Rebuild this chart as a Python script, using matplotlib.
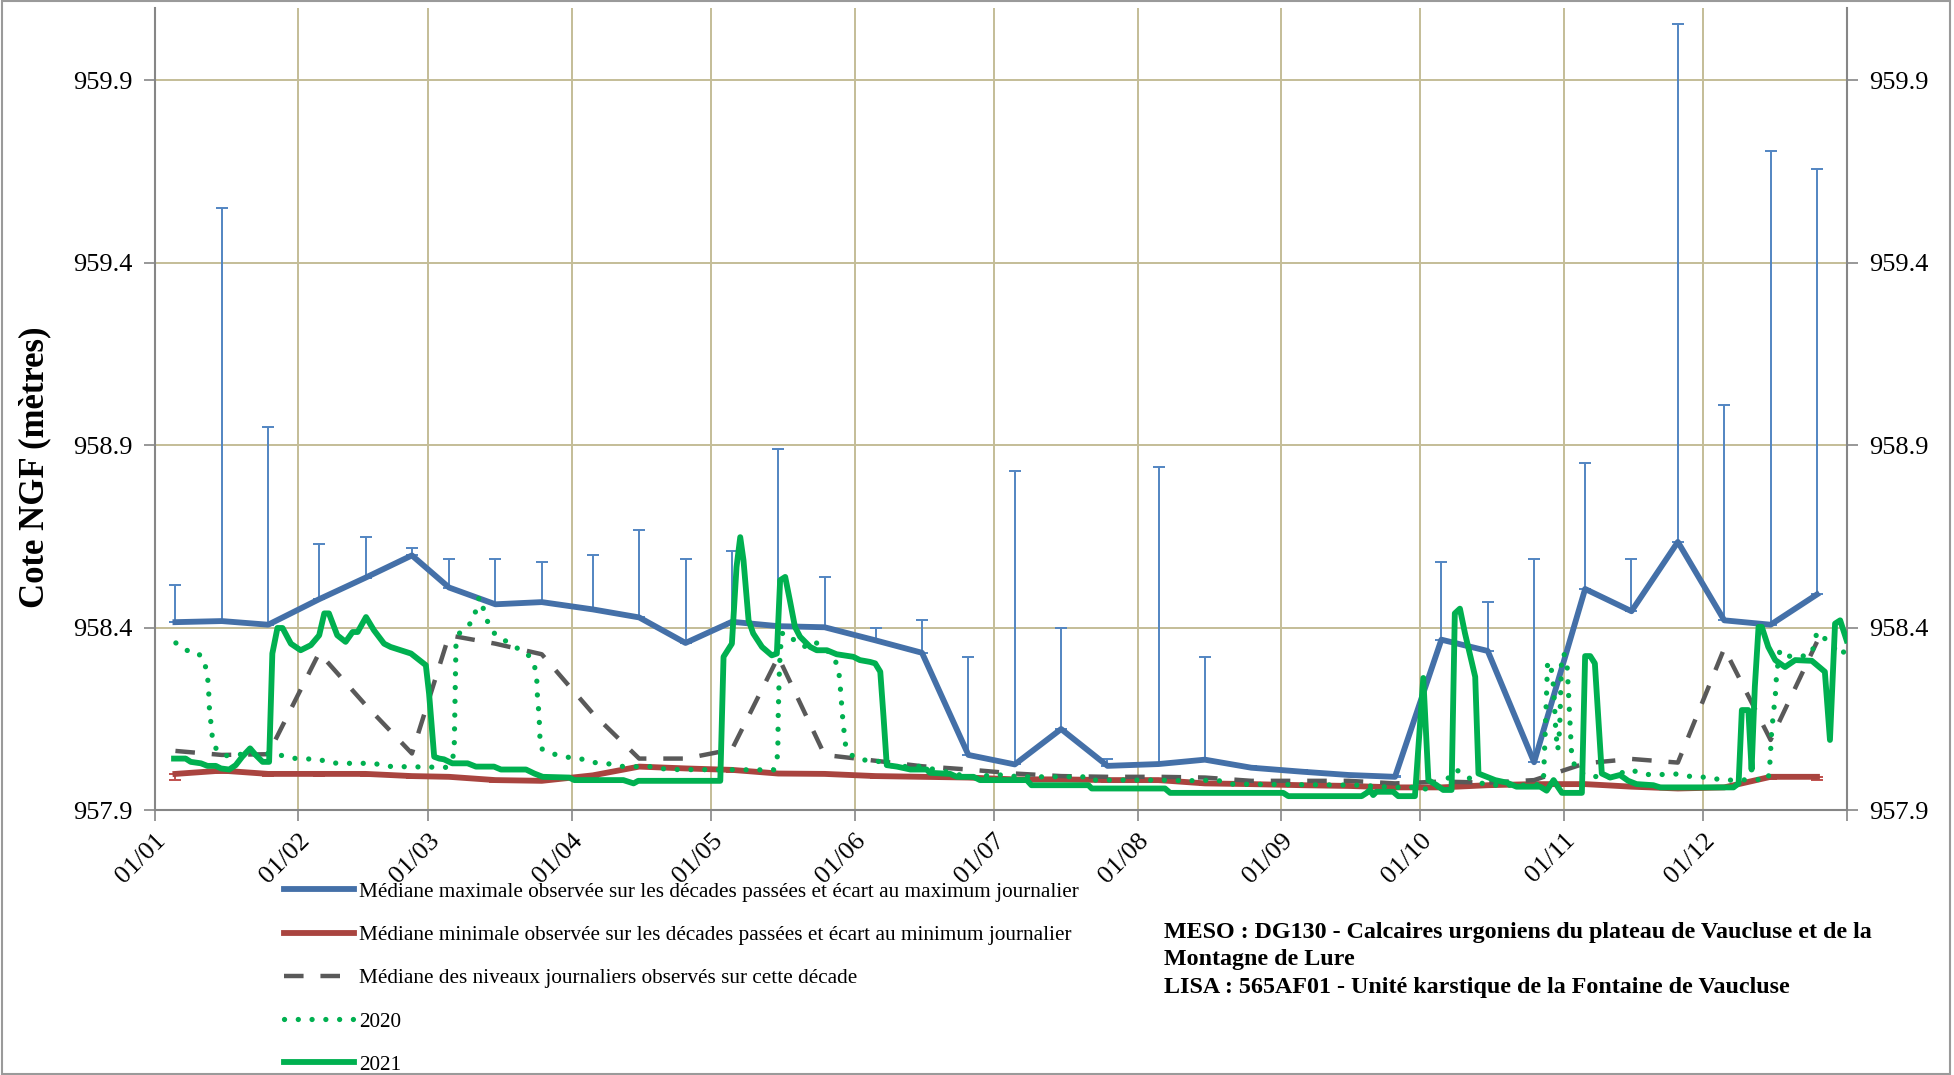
import matplotlib.pyplot as plt
import matplotlib.patches as patches
from matplotlib.lines import Line2D

plt.rcParams['font.family'] = ['Liberation Serif', 'DejaVu Serif']

# =============================================================================
# Datos (x = día del año, 0 = 01/01)
# =============================================================================
jours_decades = [4.5, 14.5, 24.5, 35.5, 45.5, 55.5, 63.5, 73.5, 83.5,
                 94.5, 104.5, 114.5, 124.5, 134.5, 144.5, 155.5, 165.5, 175.5,
                 185.5, 195.5, 205.5, 216.5, 226.5, 236.5, 247.5, 257.5, 267.5,
                 277.5, 287.5, 297.5, 308.5, 318.5, 328.5, 338.5, 348.5, 358.5]

mediane_max = [958.415, 958.418, 958.408, 958.478, 958.537, 958.598, 958.510, 958.464, 958.470,
               958.450, 958.428, 958.358, 958.416, 958.404, 958.401, 958.365, 958.331, 958.051,
               958.025, 958.122, 958.021, 958.026, 958.038, 958.016, 958.005, 957.996, 957.991,
               958.367, 958.336, 958.031, 958.506, 958.445, 958.635, 958.420, 958.408, 958.491]

maximum_journalier = [958.518, 959.551, 958.950, 958.628, 958.648, 958.618, 958.588, 958.588, 958.579,
                      958.600, 958.669, 958.589, 958.609, 958.891, 958.539, 958.399, 958.420, 958.320,
                      958.830, 958.400, 958.040, 958.840, 958.320, 958.020, 958.011, 958.000, 957.993,
                      958.579, 958.470, 958.588, 958.850, 958.588, 960.056, 959.011, 959.706, 959.656]

mediane_min = [957.999, 958.008, 957.999, 957.999, 957.999, 957.993, 957.991, 957.982, 957.980,
               957.995, 958.019, 958.014, 958.010, 958.000, 957.999, 957.993, 957.991, 957.989,
               957.984, 957.984, 957.982, 957.982, 957.973, 957.971, 957.968, 957.966, 957.962,
               957.962, 957.968, 957.971, 957.971, 957.964, 957.959, 957.962, 957.991, 957.991]

minimum_journalier = [957.982, 958.002, 957.993, 957.993, 957.993, 957.988, 957.987, 957.978, 957.976,
                      957.991, 958.014, 958.010, 958.005, 957.996, 957.995, 957.989, 957.987, 957.985,
                      957.980, 957.980, 957.978, 957.978, 957.969, 957.967, 957.964, 957.962, 957.958,
                      957.958, 957.964, 957.967, 957.967, 957.960, 957.955, 957.958, 957.986, 957.982]

mediane_decade = [958.062, 958.051, 958.053, 958.331, 958.188, 958.055, 958.379, 958.356, 958.327,
                  958.165, 958.041, 958.041, 958.066, 958.320, 958.051, 958.035, 958.020, 958.011,
                  958.000, 957.993, 957.991, 957.991, 957.989, 957.980, 957.980, 957.980, 957.973,
                  957.978, 957.975, 957.982, 958.028, 958.040, 958.030, 958.343, 958.092, 958.361]

jours_2020 = [4.6, 6.7, 9.1, 10.7, 11.2, 11.6, 11.8, 12.1, 12.3, 12.7, 13.6, 15.4, 20.7, 25.4,
              30.5, 35.5, 37.6, 39.8, 47.3, 49.9, 52.4, 62.8, 63.9, 64.6, 65.0, 65.7, 67.1,
              68.6, 69.3, 70.0, 70.7, 71.4, 72.5, 73.9, 76.1, 78.3, 80.4, 81.9, 82.4, 82.6,
              82.9, 83.1, 83.3, 85.5, 88.0, 90.5, 92.6, 95.0, 97.5, 100.0, 102.5, 107.6, 110.5,
              131.0, 133.5, 134.2, 134.4, 134.5, 134.7, 134.9, 135.3, 136.7, 138.5, 140.6,
              142.4, 145.0, 147.1, 147.7, 148.1, 148.3, 148.8, 149.1, 150.7, 152.9, 155.4,
              157.9, 160.4, 164.7, 166.9, 169.0, 171.6, 173.7, 176.2, 181.3, 183.8, 186.0,
              201.0, 202.0, 217.0, 222.0, 229.0, 232.5, 260.3, 264.0, 268.0, 272.9, 275.4,
              277.9, 280.7, 282.6, 285.1, 287.6, 297.7, 299.5, 300.0, 300.4, 301.0, 301.7,
              302.2, 302.6, 303.0, 303.4, 303.9, 304.6, 305.2, 305.6, 306.5, 309.2, 311.7,
              314.2, 316.0, 318.2, 320.7, 322.9, 327.9, 330.4, 332.9, 335.4, 338.0, 340.5,
              348.0, 348.4, 348.7, 349.1, 349.5, 349.8, 350.5, 352.3, 354.9, 357.4, 358.5,
              360.2, 362.0, 363.8, 364.9]
niveaux_2020 = [958.358, 958.338, 958.334, 958.311, 958.279, 958.247, 958.183, 958.146, 958.114,
                958.083, 958.060, 958.049, 958.055, 958.055, 958.041, 958.039, 958.030, 958.028,
                958.028, 958.020, 958.019, 958.017, 958.032, 958.055, 958.356, 958.384, 958.402,
                958.416, 958.448, 958.484, 958.461, 958.429, 958.397, 958.375, 958.361, 958.343,
                958.329, 958.297, 958.265, 958.201, 958.165, 958.101, 958.069, 958.055, 958.048,
                958.041, 958.039, 958.030, 958.028, 958.020, 958.019, 958.019, 958.011, 958.010,
                958.010, 958.032, 958.064, 958.165, 958.265, 958.329, 958.384, 958.384, 958.356,
                958.347, 958.361, 958.338, 958.302, 958.265, 958.201, 958.165, 958.101, 958.069,
                958.046, 958.037, 958.037, 958.023, 958.019, 958.020, 958.014, 958.010, 958.002,
                957.996, 957.991, 957.996, 957.996, 957.991, 957.991, 957.982, 957.982, 957.980,
                957.982, 957.971, 957.968, 957.964, 957.962, 957.962, 957.953, 957.973, 958.011,
                957.993, 957.978, 957.968, 957.968, 957.975, 958.150, 958.302, 958.306, 958.238,
                958.110, 958.064, 958.120, 958.300, 958.330, 958.300, 958.150, 958.050, 958.010,
                957.993, 957.991, 957.989, 958.000, 958.011, 958.000, 957.996, 957.999, 957.993,
                957.991, 957.989, 957.982, 957.982, 957.984, 958.037, 958.110, 958.165, 958.210,
                958.274, 958.338, 958.322, 958.320, 958.329, 958.388, 958.370, 958.347, 958.324,
                958.347]

jours_2021 = [4.2, 6.7, 7.8, 10.0, 11.4, 13.2, 14.3, 16.1, 17.5, 18.9, 20.6, 21.8, 23.3, 24.7,
              25.4, 26.5, 27.6, 29.4, 31.5, 33.7, 35.5, 36.6, 37.6, 39.4, 41.2, 42.7, 43.8,
              45.6, 47.3, 49.5, 50.9, 53.1, 55.3, 57.1, 58.5, 59.2, 60.3, 61.4, 62.4, 64.2,
              67.5, 69.3, 73.2, 74.7, 80.1, 81.9, 83.7, 89.4, 90.5, 101.1, 103.3, 104.3, 122.0,
              122.7, 124.5, 125.5, 126.3, 127.0, 128.1, 129.1, 131.0, 133.1, 134.2, 134.9,
              136.0, 137.0, 138.1, 139.2, 141.4, 142.8, 145.0, 147.1, 148.6, 150.7, 152.1,
              154.3, 155.4, 156.5, 157.2, 157.9, 160.1, 161.9, 163.0, 166.5, 167.2, 171.6,
              173.0, 176.6, 178.0, 188.1, 189.1, 201.4, 202.1, 217.9, 219.0, 243.4, 244.5,
              260.3, 261.4, 262.1, 262.8, 263.5, 267.1, 268.2, 271.8, 273.6, 274.7, 276.5,
              277.9, 279.7, 280.4, 281.5, 282.6, 284.8, 285.5, 287.3, 289.1, 291.6, 293.7,
              298.8, 300.2, 301.7, 302.7, 303.5, 307.8, 308.5, 309.6, 310.6, 312.1, 313.9,
              316.0, 317.8, 319.6, 323.2, 324.7, 340.5, 341.6, 342.3, 343.7, 344.4, 345.1,
              345.9, 346.6, 348.0, 349.5, 351.6, 353.8, 357.4, 360.2, 361.3, 362.4, 363.5, 364.9]
niveaux_2021 = [958.041, 958.041, 958.032, 958.028, 958.021, 958.021, 958.014, 958.011, 958.023,
                958.046, 958.069, 958.051, 958.032, 958.032, 958.329, 958.399, 958.399, 958.356,
                958.338, 958.352, 958.379, 958.439, 958.439, 958.379, 958.361, 958.388, 958.388,
                958.429, 958.393, 958.356, 958.347, 958.338, 958.329, 958.311, 958.297, 958.219,
                958.046, 958.041, 958.039, 958.028, 958.028, 958.019, 958.019, 958.011, 958.011,
                958.000, 957.991, 957.989, 957.982, 957.982, 957.973, 957.980, 957.980, 958.320,
                958.356, 958.566, 958.648, 958.585, 958.420, 958.384, 958.347, 958.324, 958.329,
                958.530, 958.539, 958.475, 958.402, 958.375, 958.347, 958.338, 958.338, 958.327,
                958.324, 958.320, 958.311, 958.306, 958.302, 958.279, 958.156, 958.023, 958.019,
                958.014, 958.011, 958.011, 958.002, 957.999, 957.991, 957.991, 957.982, 957.982,
                957.968, 957.968, 957.959, 957.959, 957.947, 957.947, 957.938, 957.938, 957.947,
                957.955, 957.941, 957.950, 957.950, 957.938, 957.938, 958.262, 957.982, 957.968,
                957.955, 957.955, 958.439, 958.452, 958.384, 958.265, 958.000, 957.991, 957.982,
                957.975, 957.964, 957.964, 957.953, 957.982, 957.962, 957.947, 957.947, 958.322,
                958.322, 958.302, 958.000, 957.989, 957.996, 957.980, 957.971, 957.968, 957.962,
                957.962, 957.973, 958.174, 958.174, 958.011, 958.238, 958.402, 958.402, 958.347,
                958.311, 958.292, 958.311, 958.309, 958.279, 958.092, 958.411, 958.420, 958.365]

jours_mois = [0, 31, 59, 90, 120, 151, 181, 212, 243, 273, 304, 334]
etiquettes_mois = ['01/01', '01/02', '01/03', '01/04', '01/05', '01/06',
                   '01/07', '01/08', '01/09', '01/10', '01/11', '01/12']
graduations_y = [957.9, 958.4, 958.9, 959.4, 959.9]

libelles = ['Médiane maximale observée sur les décades passées et écart au maximum journalier',
            'Médiane minimale observée sur les décades passées et écart au minimum journalier',
            'Médiane des niveaux journaliers observés sur cette décade',
            '2020',
            '2021']
texte_masse_eau = ('MESO : DG130 - Calcaires urgoniens du plateau de Vaucluse et de la\n'
                   'Montagne de Lure\n'
                   'LISA : 565AF01 - Unité karstique de la Fontaine de Vaucluse')

# =============================================================================
# Colores y estilos
# =============================================================================
azul = '#4470A8'
azulBarras = '#5285C2'
rojo = '#A9443F'
rojoBarras = '#C0504D'
gris = '#595959'
verde = '#00B050'
colorGrilla = '#C4BD97'
colorEjes = '#868686'

grosor = 4.2
punteado = (0.01, 2.6)
guiones = (4.4, 3.8)

fig = plt.figure(figsize=(19.54, 10.75), dpi=100)
ax = fig.add_axes([0.0791, 0.2465, 0.8662, 0.7465])

# barras de error (máximo y mínimo journalier)
ecartMax = [m - v for v, m in zip(mediane_max, maximum_journalier)]
ecartMin = [v - m for v, m in zip(mediane_min, minimum_journalier)]
ceros = [0] * len(jours_decades)
ax.errorbar(jours_decades, mediane_max, yerr=[ceros, ecartMax], fmt='none',
            ecolor=azulBarras, elinewidth=1.4, capsize=4.5, capthick=1.4, zorder=2)
ax.errorbar(jours_decades, mediane_min, yerr=[ecartMin, ceros], fmt='none',
            ecolor=rojoBarras, elinewidth=1.4, capsize=4.5, capthick=1.4, zorder=2)

ax.plot(jours_decades, mediane_max, color=azul, lw=grosor, zorder=3, solid_joinstyle='round')
ax.plot(jours_decades, mediane_min, color=rojo, lw=grosor, zorder=3, solid_joinstyle='round')
ax.plot(jours_decades, mediane_decade, color=gris, lw=3.2, dashes=guiones, zorder=4)
ax.plot(jours_2020, niveaux_2020, color=verde, lw=3.8, dashes=punteado,
        dash_capstyle='round', zorder=5)
ax.plot(jours_2021, niveaux_2021, color=verde, lw=grosor, zorder=6, solid_joinstyle='round')

# ejes
ax.set_xlim(0, 365)
ax.set_ylim(957.9, 960.1)
ax.set_xticks(jours_mois + [365])
ax.set_xticklabels(etiquettes_mois + [''], rotation=45, ha='right', va='top',
                   rotation_mode='anchor', fontsize=19)
ax.set_yticks(graduations_y)
ax.set_yticklabels(['%.1f' % v for v in graduations_y], fontsize=19)
ax.tick_params(axis='both', direction='out', length=8, width=1.2, color=colorEjes)
ax.tick_params(axis='y', right=True, labelright=True, pad=8)
ax.tick_params(axis='x', pad=6)

ax.grid(True, color=colorGrilla, lw=1.4, zorder=0)
ax.set_axisbelow(True)
for lado in ['left', 'right', 'bottom']:
    ax.spines[lado].set_color(colorEjes)
    ax.spines[lado].set_linewidth(1.5)
ax.spines['top'].set_visible(False)

fig.text(35 / 1954, 1 - 467 / 1075, 'Cote NGF (mètres)', rotation=90,
         ha='center', va='center', fontsize=25, fontweight='bold')

# leyenda
manejadores = [Line2D([], [], color=azul, lw=grosor),
               Line2D([], [], color=rojo, lw=grosor),
               Line2D([], [], color=gris, lw=3.2, dashes=guiones),
               Line2D([], [], color=verde, lw=3.8, dashes=punteado, dash_capstyle='round'),
               Line2D([], [], color=verde, lw=grosor)]
fig.legend(manejadores, libelles, loc='upper left', bbox_to_anchor=(0.1453, 0.1795),
           frameon=False, fontsize=15.3, handlelength=3.3, handletextpad=0.22,
           labelspacing=1.1, borderpad=0, borderaxespad=0)

fig.text(1164 / 1954, 1 - 922 / 1075, texte_masse_eau, ha='left', va='top',
         fontsize=17.3, fontweight='bold', linespacing=1.4)

# marco de la figura
fig.patches.append(patches.Rectangle((0.001, 0.001), 0.997, 0.998, transform=fig.transFigure,
                                     fill=False, ec='#9A9A9A', lw=1.5))

fig.savefig('out.png', dpi=100)
